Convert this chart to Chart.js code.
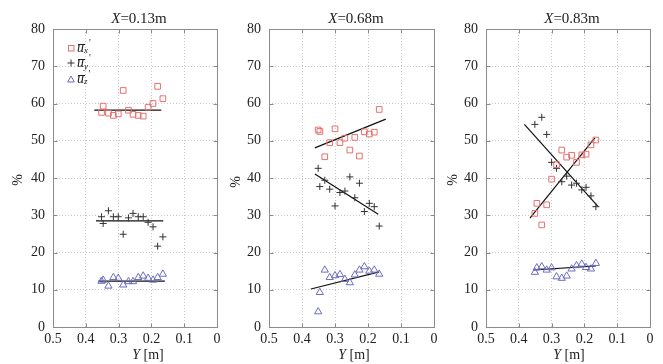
<!DOCTYPE html>
<html><head><meta charset="utf-8">
<script src="https://cdn.jsdelivr.net/npm/chart.js@4.4.0/dist/chart.umd.min.js"></script>
<style>
body{margin:0;background:#fff;}
#wrap{position:relative;width:663px;height:364px;overflow:hidden;font-family:"Liberation Serif","Times New Roman",serif;color:#222;background:#fff;}
canvas{position:absolute;top:0;}
.lbl{position:absolute;white-space:nowrap;transform:translate(-50%,-50%);line-height:1;}
.ttl{font-size:15px;}
.xl{font-size:14px;}
.pc{font-size:14px;transform:translate(-50%,-50%) rotate(-90deg);}
.leg{position:absolute;font-size:14px;line-height:1;}
.leg div{height:15.5px;display:flex;align-items:center;}
.leg svg{margin-right:2px;}
.ov{position:relative;font-style:italic;display:inline-block;line-height:14px;}
.ov::before{content:"";position:absolute;left:1px;right:-1px;top:3px;height:1px;background:#222;}
.leg .sb{font-size:9px;font-style:italic;position:relative;top:3px;}
.leg .sp{font-size:10px;position:relative;top:-5px;margin-left:1px;}
</style></head>
<body>
<div id="wrap">
  <canvas id="c1" width="229" height="364" style="left:0px"></canvas>
  <canvas id="c2" width="217" height="364" style="left:229px"></canvas>
  <canvas id="c3" width="217" height="364" style="left:446px"></canvas>

  <div class="lbl ttl" style="left:139px;top:18px"><i>X</i>=0.13m</div>
  <div class="lbl ttl" style="left:356px;top:18px"><i>X</i>=0.68m</div>
  <div class="lbl ttl" style="left:572px;top:18px"><i>X</i>=0.83m</div>

  <div class="lbl xl" style="left:148px;top:355px"><i>Y</i> [m]</div>
  <div class="lbl xl" style="left:354px;top:355px"><i>Y</i> [m]</div>
  <div class="lbl xl" style="left:569px;top:355px"><i>Y</i> [m]</div>

  <div class="lbl pc" style="left:18px;top:180px">%</div>
  <div class="lbl pc" style="left:236px;top:182px">%</div>
  <div class="lbl pc" style="left:453px;top:180px">%</div>

  <div class="leg" style="left:67px;top:40px">
    <div><svg width="8" height="8"><rect x="1.5" y="1.5" width="5.5" height="5.5" fill="none" stroke="#e8706f" stroke-width="1"/></svg><span class="ov">u</span><span class="sb">x</span><span class="sp">'</span></div>
    <div><svg width="8" height="8"><path d="M4 0.5V7.5M0.5 4H7.5" stroke="#333" stroke-width="1"/></svg><span class="ov">u</span><span class="sb">y</span><span class="sp">'</span></div>
    <div><svg width="8" height="8"><path d="M4 1L7.3 7H0.7Z" fill="none" stroke="#6c6cc0" stroke-width="1"/></svg><span class="ov">u</span><span class="sb">z</span><span class="sp">'</span></div>
  </div>
</div>
<script>
// ---- axis ticks ----
const xTickLabels = ['0.5','0.4','0.3','0.2','0.1','0'];
const yTickValues = [0,10,20,30,40,50,60,70,80];

// ---- Panel 1: X = 0.13 m ----
const posY1 = [0.352,0.347,0.331,0.316,0.301,0.286,0.270,0.256,0.240,0.225,0.210,0.195,0.181,0.165];
const ux1 = [57.6,59.3,57.4,56.8,57.2,63.5,58.2,57.1,56.8,56.6,59.0,60.0,64.6,61.3];
const uy1 = [29.6,27.8,31.2,29.6,29.6,24.9,29.3,30.5,29.6,29.6,28.1,26.9,21.7,24.2];
const uz1 = [12.3,12.6,11.0,13.3,13.1,11.3,12.2,12.2,13.3,13.7,13.1,12.6,13.3,14.2];
const fitUx1 = [[0.374,58.2],[0.170,58.2]];
const fitUy1 = [[0.369,28.5],[0.164,28.5]];
const fitUz1 = [[0.362,12.3],[0.159,12.3]];

// ---- Panel 2: X = 0.68 m ----
const posY2 = [0.351,0.346,0.331,0.316,0.300,0.285,0.270,0.255,0.240,0.226,0.211,0.196,0.181,0.166];
const ux2 = [52.9,52.5,45.7,49.5,53.2,49.5,50.7,47.5,50.9,45.9,52.4,51.8,52.3,58.4];
const uy2 = [42.6,37.7,39.4,37.0,32.5,36.1,36.5,40.3,34.7,38.6,31.0,33.2,32.3,27.1];
const uz2 = [4.1,9.3,15.3,13.3,13.8,14.1,12.8,11.9,14.0,15.3,16.2,15.0,15.3,14.2];
const fitUx2 = [[0.361,48.1],[0.146,55.8]];
const fitUy2 = [[0.361,41.1],[0.169,30.3]];
const fitUz2 = [[0.373,10.2],[0.166,14.8]];

// ---- Panel 3: X = 0.83 m ----
const posY3 = [0.351,0.345,0.330,0.315,0.300,0.285,0.269,0.254,0.239,0.224,0.208,0.195,0.180,0.165];
const ux3 = [30.5,33.2,27.4,32.8,39.7,43.6,47.5,45.6,46.1,44.2,46.2,46.4,48.9,50.2];
const uy3 = [54.4,null,56.3,51.7,44.2,42.6,39.0,40.5,38.1,38.6,36.8,37.5,35.2,32.3];
const uz3 = [14.7,15.9,16.2,15.3,15.9,13.5,13.1,13.7,15.6,16.5,16.9,16.0,15.6,17.1];
const fitUx3 = [[0.366,29.2],[0.168,50.8]];
const fitUy3 = [[0.383,54.4],[0.158,32.3]];
const fitUz3 = [[0.354,15.3],[0.165,16.4]];

const RED = '#e8706f', PLUS = '#333333', BLUE = '#6c6cc0';

const pts = (xs, ys) => xs.map((x,i) => ({x, y: ys[i]})).filter(p => p.y !== null);
const seg = arr => arr.map(([x,y]) => ({x, y}));

const boxPlugin = {
  id: 'box',
  afterDatasetsDraw(chart) {
    const {ctx, chartArea: a, scales} = chart;
    const l = Math.round(a.left)+0.5, r = Math.round(a.right)+0.5, t = Math.round(a.top)+0.5, b = Math.round(a.bottom)+0.5;
    ctx.save();
    ctx.strokeStyle = '#8c8c8c';
    ctx.lineWidth = 1;
    ctx.strokeRect(l, t, r-l, b-t);
    ctx.beginPath();
    scales.x.ticks.forEach(tk => {
      const px = Math.round(scales.x.getPixelForValue(tk.value))+0.5;
      ctx.moveTo(px, b); ctx.lineTo(px, b-4);
      ctx.moveTo(px, t); ctx.lineTo(px, t+4);
    });
    scales.y.ticks.forEach(tk => {
      const py = Math.round(scales.y.getPixelForValue(tk.value))+0.5;
      ctx.moveTo(l, py); ctx.lineTo(l+4, py);
      ctx.moveTo(r, py); ctx.lineTo(r-4, py);
    });
    ctx.stroke();
    ctx.restore();
  }
};

function makePanel(id, yw, rightPad, Ys, ux, uy, uz, fx, fy, fz) {
  const font = {family: '"Liberation Serif","Times New Roman",serif', size: 14};
  const lineDs = d => ({data: seg(d), showLine: true, pointRadius: 0, borderColor: '#111', borderWidth: 1.2, fill: false});
  new Chart(document.getElementById(id), {
    type: 'scatter',
    data: {
      datasets: [
        {data: pts(Ys, ux), pointStyle: 'rect', pointRadius: 4, borderColor: RED, backgroundColor: 'rgba(0,0,0,0)', borderWidth: 1},
        {data: pts(Ys, uy), pointStyle: 'cross', pointRadius: 3.5, borderColor: PLUS, backgroundColor: 'rgba(0,0,0,0)', borderWidth: 1},
        {data: pts(Ys, uz), pointStyle: 'triangle', pointRadius: 4.2, borderColor: BLUE, backgroundColor: 'rgba(0,0,0,0)', borderWidth: 1},
        lineDs(fx), lineDs(fy), lineDs(fz)
      ]
    },
    options: {
      responsive: false,
      animation: false,
      layout: {padding: {top: 29, bottom: 0, left: 0, right: rightPad}},
      plugins: {legend: {display: false}, tooltip: {enabled: false}},
      scales: {
        x: {
          type: 'linear', min: 0, max: 0.5, reverse: true,
          afterFit: s => { s.height = 37; },
          afterBuildTicks: s => { s.ticks = xTickLabels.map((_, i) => ({value: +(0.5 - i*0.1).toFixed(1)})); },
          ticks: {font, color: '#222', padding: 4, maxRotation: 0, autoSkip: false,
                  callback: v => xTickLabels[Math.round((0.5 - v) * 10)]},
          grid: {color: '#c8c8c8', lineWidth: 1, drawTicks: false},
          border: {display: false, dash: [1, 2]}
        },
        y: {
          type: 'linear', min: 0, max: 80,
          afterFit: s => { s.width = yw; },
          afterBuildTicks: s => { s.ticks = yTickValues.map(v => ({value: v})); },
          ticks: {font, color: '#222', padding: 8, autoSkip: false, callback: v => String(v)},
          grid: {color: '#c8c8c8', lineWidth: 1, drawTicks: false},
          border: {display: false, dash: [1, 2]}
        }
      }
    },
    plugins: [boxPlugin]
  });
}

makePanel('c1', 53, 12, posY1, ux1, uy1, uz1, fitUx1, fitUy1, fitUz1);
makePanel('c2', 40, 12, posY2, ux2, uy2, uz2, fitUx2, fitUy2, fitUz2);
makePanel('c3', 40, 13, posY3, ux3, uy3, uz3, fitUx3, fitUy3, fitUz3);
</script>
</body></html>
